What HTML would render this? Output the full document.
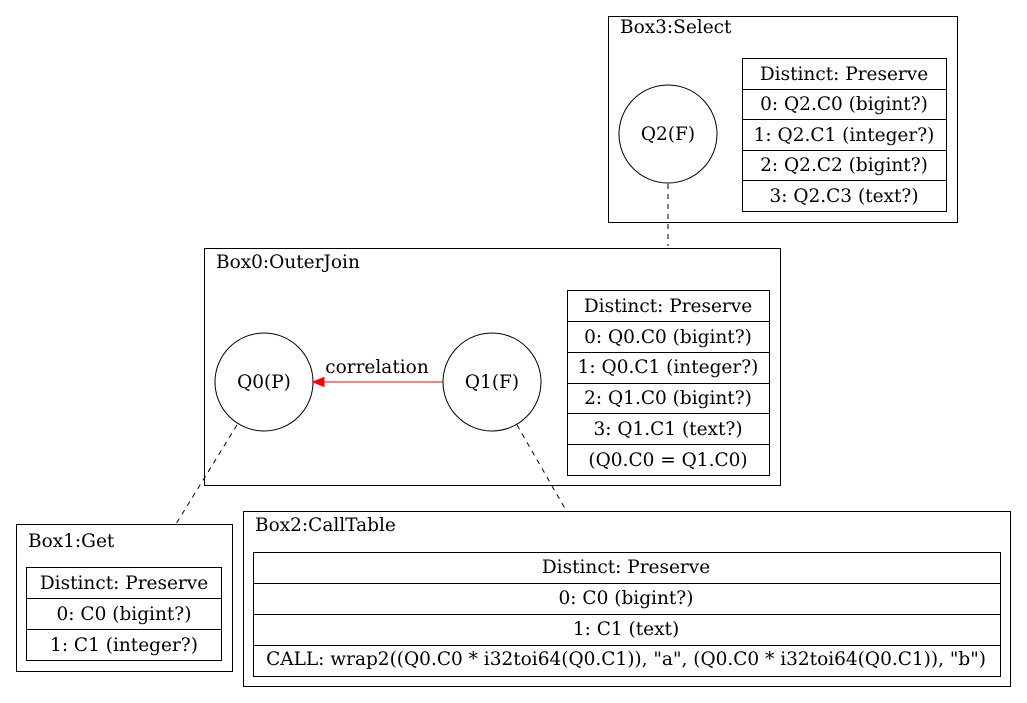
<!DOCTYPE html>
<html><head><meta charset="utf-8"><style>
html,body{margin:0;padding:0;background:#fff;}
svg{display:block;}
text{font-family:"DejaVu Serif",serif;font-size:18.5px;fill:#000;}
</style></head><body>
<svg width="1027" height="703" viewBox="0 0 1027 703" xmlns="http://www.w3.org/2000/svg">
<g fill="none" stroke="#000" stroke-width="1">
<rect x="608.5" y="16.5" width="349" height="206"/>
<circle cx="668" cy="134" r="49"/>
<rect x="742.5" y="58.5" width="204" height="153"/>
<line x1="742" y1="89.5" x2="946" y2="89.5"/><line x1="742" y1="119.5" x2="946" y2="119.5"/>
<line x1="742" y1="150.5" x2="946" y2="150.5"/><line x1="742" y1="180.5" x2="946" y2="180.5"/>
<rect x="204.5" y="248.5" width="576" height="237"/>
<circle cx="264" cy="382" r="49"/>
<circle cx="492" cy="382" r="49"/>
<rect x="567.5" y="290.5" width="202" height="185"/>
<line x1="567" y1="321.5" x2="769" y2="321.5"/><line x1="567" y1="352.5" x2="769" y2="352.5"/>
<line x1="567" y1="383.5" x2="769" y2="383.5"/><line x1="567" y1="413.5" x2="769" y2="413.5"/>
<line x1="567" y1="444.5" x2="769" y2="444.5"/>
<rect x="16.5" y="524.5" width="216" height="147"/>
<rect x="26.5" y="567.5" width="195" height="93"/>
<line x1="26" y1="598.5" x2="221" y2="598.5"/><line x1="26" y1="629.5" x2="221" y2="629.5"/>
<rect x="243.5" y="511.5" width="767" height="175"/>
<rect x="253.5" y="552.5" width="747" height="124"/>
<line x1="253" y1="583.5" x2="1000" y2="583.5"/><line x1="253" y1="614.5" x2="1000" y2="614.5"/>
<line x1="253" y1="645.5" x2="1000" y2="645.5"/>
<g stroke-dasharray="5,5">
<line x1="668" y1="184" x2="668" y2="246"/>
<line x1="237" y1="425" x2="176" y2="524"/>
<line x1="517" y1="425" x2="567" y2="512"/>
</g>
</g>
<line x1="443" y1="382" x2="323" y2="382" stroke="#f00" stroke-width="1"/>
<polygon points="313,382 324,377.5 324,386.5" fill="#f00" stroke="#f00"/>
<text x="620" y="33">Box3:Select</text>
<text x="668" y="140" text-anchor="middle">Q2(F)</text>
<g text-anchor="middle">
<text x="844" y="80">Distinct: Preserve</text>
<text x="844" y="110">0: Q2.C0 (bigint?)</text>
<text x="844" y="141">1: Q2.C1 (integer?)</text>
<text x="844" y="171">2: Q2.C2 (bigint?)</text>
<text x="844" y="202">3: Q2.C3 (text?)</text>
</g>
<text x="216" y="268">Box0:OuterJoin</text>
<text x="264" y="388" text-anchor="middle">Q0(P)</text>
<text x="492" y="388" text-anchor="middle">Q1(F)</text>
<text x="377" y="373" text-anchor="middle">correlation</text>
<g text-anchor="middle">
<text x="668" y="312">Distinct: Preserve</text>
<text x="668" y="343">0: Q0.C0 (bigint?)</text>
<text x="668" y="373">1: Q0.C1 (integer?)</text>
<text x="668" y="404">2: Q1.C0 (bigint?)</text>
<text x="668" y="435">3: Q1.C1 (text?)</text>
<text x="668" y="466">(Q0.C0 = Q1.C0)</text>
</g>
<text x="28" y="547">Box1:Get</text>
<g text-anchor="middle">
<text x="124" y="589">Distinct: Preserve</text>
<text x="124" y="620">0: C0 (bigint?)</text>
<text x="124" y="651">1: C1 (integer?)</text>
</g>
<text x="255" y="531">Box2:CallTable</text>
<g text-anchor="middle">
<text x="626" y="573">Distinct: Preserve</text>
<text x="626" y="604">0: C0 (bigint?)</text>
<text x="626" y="635">1: C1 (text)</text>
<text x="626" y="665">CALL: wrap2((Q0.C0 * i32toi64(Q0.C1)), "a", (Q0.C0 * i32toi64(Q0.C1)), "b")</text>
</g>
</svg>
</body></html>
